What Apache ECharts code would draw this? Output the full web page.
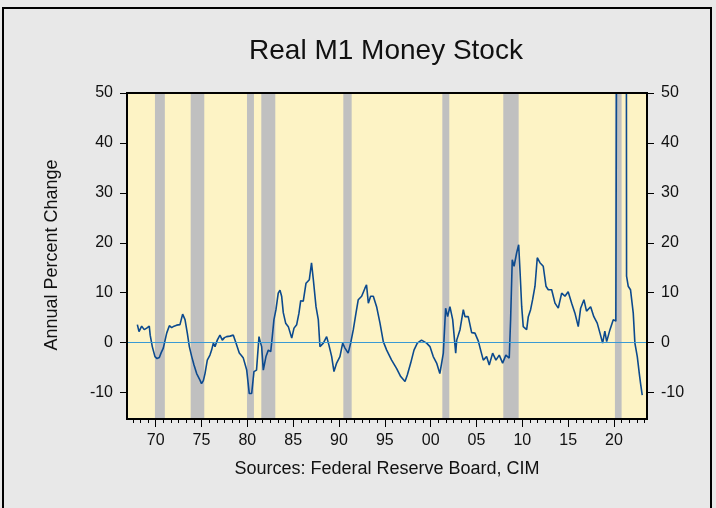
<!DOCTYPE html>
<html>
<head>
<meta charset="utf-8">
<title>Real M1 Money Stock</title>
<script src="https://cdn.jsdelivr.net/npm/echarts@6/dist/echarts.min.js"></script>
<style>
  html, body { margin: 0; padding: 0; background: #e8e8e8; }
  #chart { width: 716px; height: 508px; }
</style>
</head>
<body>
<div id="chart"></div>
<script>
'use strict';

// 年份(小数年) 与 实际M1同比增速(%)
var years = [
  1968.0, 1968.18, 1968.47, 1968.75, 1969.02, 1969.3, 1969.4, 1969.63, 1969.92, 1970.15,
  1970.4, 1970.6, 1970.83, 1971.2, 1971.49, 1971.74, 1972.0, 1972.29, 1972.65, 1972.94,
  1973.2, 1973.45, 1973.67, 1973.93, 1974.18, 1974.47, 1974.65, 1974.83, 1975.0, 1975.2,
  1975.38, 1975.63, 1975.92, 1976.1, 1976.29, 1976.47, 1976.72, 1977.01, 1977.27, 1977.5,
  1977.74, 1978.1, 1978.47, 1978.76, 1979.12, 1979.35, 1979.56, 1979.93, 1980.21, 1980.47,
  1980.72, 1981.0, 1981.27, 1981.4, 1981.56, 1981.74, 1982.03, 1982.29, 1982.55, 1982.72,
  1982.9, 1983.12, 1983.37, 1983.56, 1983.74, 1983.92, 1984.18, 1984.47, 1984.84, 1985.09,
  1985.38, 1985.63, 1985.82, 1986.1, 1986.4, 1986.76, 1987.0, 1987.2, 1987.49, 1987.74,
  1987.92, 1988.29, 1988.65, 1988.9, 1989.2, 1989.45, 1989.74, 1990.1, 1990.4, 1990.65,
  1991.0, 1991.27, 1991.56, 1991.85, 1992.1, 1992.47, 1992.83, 1993.0, 1993.2, 1993.45,
  1993.74, 1994.1, 1994.47, 1994.83, 1995.2, 1995.74, 1996.29, 1996.73, 1997.2, 1997.45,
  1997.82, 1998.18, 1998.54, 1999.0, 1999.56, 1999.92, 2000.28, 2000.65, 2001.0, 2001.38,
  2001.63, 2001.85, 2002.1, 2002.4, 2002.73, 2002.84, 2003.2, 2003.56, 2003.74, 2004.1,
  2004.47, 2004.83, 2005.2, 2005.45, 2005.74, 2006.1, 2006.39, 2006.76, 2007.12, 2007.48,
  2007.85, 2008.2, 2008.57, 2008.72, 2008.9, 2009.1, 2009.38, 2009.6, 2009.74, 2009.93,
  2010.1, 2010.47, 2010.65, 2010.9, 2011.12, 2011.38, 2011.63, 2011.92, 2012.28, 2012.58,
  2012.83, 2013.2, 2013.56, 2013.92, 2014.29, 2014.65, 2015.0, 2015.38, 2015.74, 2016.1,
  2016.36, 2016.72, 2017.0, 2017.45, 2017.8, 2018.17, 2018.47, 2018.76, 2019.0, 2019.2,
  2019.56, 2019.92, 2020.2, 2020.28, 2020.4, 2020.9, 2021.25, 2021.37, 2021.55, 2021.8,
  2022.1, 2022.28, 2022.54, 2022.76, 2022.9, 2023.08
];
var values = [
  3.6, 2.2, 3.3, 2.6, 2.9, 3.3, 1.5, -0.8, -2.8, -3.2,
  -3.0, -2.0, -1.1, 1.9, 3.4, 3.0, 3.3, 3.5, 3.6, 5.7,
  4.6, 1.9, -0.8, -2.8, -4.5, -6.2, -6.5, -7.5, -8.2, -7.6,
  -6.2, -3.5, -2.5, -1.5, -0.1, -0.8, 0.5, 1.5, 0.5, 1.0,
  1.2, 1.3, 1.5, -0.1, -2.1, -2.6, -3.1, -5.5, -10.2, -10.2,
  -5.8, -5.5, 1.2, 0.2, -0.8, -5.5, -2.8, -1.5, -1.8, 1.2,
  4.6, 6.6, 9.9, 10.5, 9.3, 6.0, 3.9, 3.2, 0.9, 2.9,
  3.6, 5.9, 8.4, 8.3, 11.9, 12.6, 16.0, 12.6, 7.2, 4.6,
  -0.8, -0.1, 1.2, -0.5, -2.8, -5.8, -4.1, -2.8, -0.1, -1.1,
  -2.1, -0.1, 2.6, 5.9, 8.6, 9.3, 10.9, 11.6, 7.9, 9.3,
  9.3, 7.2, 3.9, 0.2, -1.5, -3.5, -5.2, -6.8, -7.8, -6.5,
  -4.1, -1.5, -0.1, 0.5, -0.1, -0.8, -2.8, -4.1, -6.2, -2.1,
  6.9, 5.2, 7.2, 4.6, -2.1, 0.5, 2.6, 6.6, 5.2, 5.2,
  2.0, 1.9, 0.3, -1.5, -3.5, -2.8, -4.5, -2.1, -3.5, -2.5,
  -4.1, -2.5, -3.1, 4.6, 16.6, 15.3, 18.0, 19.6, 14.6, 7.2,
  3.2, 2.6, 5.2, 6.6, 8.6, 11.3, 17.0, 16.0, 15.3, 11.3,
  10.6, 10.6, 7.9, 6.9, 9.9, 9.3, 10.2, 7.9, 5.9, 3.2,
  6.9, 8.6, 6.3, 7.2, 5.2, 3.9, 1.9, -0.1, 2.3, 0.2,
  2.6, 4.6, 4.3, 60, 250, 340, 300, 13.3, 11.3, 10.6,
  5.9, -0.1, -2.8, -6.2, -8.2, -10.5
];

// 衰退期阴影
var recessionStart = [1969.92, 1973.82, 1979.96, 1981.52, 1990.47, 2001.27, 2007.92, 2020.1];
var recessionEnd   = [1971.0, 1975.3, 1980.72, 1983.05, 1991.38, 2002.03, 2009.6, 2020.83];

// 刻度
var yTickValues = [-10, 0, 10, 20, 30, 40, 50];
var xLabelYears = [1970, 1975, 1980, 1985, 1990, 1995, 2000, 2005, 2010, 2015, 2020];

var X_MIN = 1966.87, X_MAX = 2023.6;
var Y_MIN = -15.3, Y_MAX = 50;
var FONT = '"Liberation Sans", Arial, sans-serif';

var minorTicks = [];
for (var t = 1970 - 5 / 6 * 3; t <= X_MAX; t += 5 / 6) {
  minorTicks.push(+t.toFixed(4));
}

var lineData = years.map(function (y, i) { return [y, values[i]]; });
var bands = recessionStart.map(function (s, i) {
  return [{ xAxis: s }, { xAxis: recessionEnd[i] }];
});

var grid = { left: 127, top: 93, width: 520, height: 326 };

function yAxisOf(pos) {
  return {
    type: 'value',
    position: pos,
    min: Y_MIN,
    max: Y_MAX,
    splitLine: { show: false },
    axisLine: { show: false, onZero: false },
    axisTick: {
      show: true,
      customValues: yTickValues,
      length: 7,
      lineStyle: { color: '#000', width: 1 }
    },
    axisLabel: {
      customValues: yTickValues,
      color: '#111',
      fontSize: 16,
      fontFamily: FONT,
      margin: 14
    }
  };
}

var chart = echarts.init(document.getElementById('chart'));

chart.setOption({
  backgroundColor: '#e8e8e8',
  animation: false,
  grid: Object.assign({ show: true, backgroundColor: '#fdf3c5', borderWidth: 0 }, grid),
  xAxis: [
    {
      type: 'value',
      position: 'bottom',
      min: X_MIN,
      max: X_MAX,
      splitLine: { show: false },
      axisLine: { show: false, onZero: false },
      axisTick: {
        show: true,
        customValues: xLabelYears,
        length: 8,
        lineStyle: { color: '#000', width: 1 }
      },
      axisLabel: {
        customValues: xLabelYears,
        color: '#111',
        fontSize: 16,
        fontFamily: FONT,
        margin: 14,
        formatter: function (v) {
          var s = String(Math.round(v) % 100);
          return s.length < 2 ? '0' + s : s;
        }
      }
    },
    {
      type: 'value',
      position: 'bottom',
      min: X_MIN,
      max: X_MAX,
      splitLine: { show: false },
      axisLine: { show: false, onZero: false },
      axisLabel: { show: false },
      axisTick: {
        show: true,
        customValues: minorTicks,
        length: 4,
        lineStyle: { color: '#000', width: 1 }
      }
    }
  ],
  yAxis: [yAxisOf('left'), yAxisOf('right')],
  series: [
    {
      type: 'line',
      xAxisIndex: 0,
      yAxisIndex: 0,
      data: lineData,
      showSymbol: false,
      clip: true,
      lineStyle: { color: '#0c4a8e', width: 1.6 },
      markArea: {
        silent: true,
        itemStyle: { color: '#c0c0c0', opacity: 1 },
        data: bands
      },
      markLine: {
        silent: true,
        symbol: 'none',
        label: { show: false },
        lineStyle: { color: '#3a9ad4', width: 1, type: 'solid' },
        data: [{ yAxis: 0 }]
      }
    }
  ],
  graphic: [
    {
      type: 'rect',
      shape: { x: 3, y: 8, width: 708, height: 520 },
      style: { fill: null, stroke: '#000', lineWidth: 2 },
      silent: true,
      z: 100
    },
    {
      type: 'rect',
      shape: { x: grid.left, y: grid.top, width: grid.width, height: grid.height },
      style: { fill: null, stroke: '#000', lineWidth: 2 },
      silent: true,
      z: 100
    },
    {
      type: 'text',
      x: 386,
      y: 51,
      style: {
        text: 'Real M1 Money Stock',
        fill: '#111',
        font: '28px ' + FONT,
        textAlign: 'center',
        textVerticalAlign: 'middle'
      }
    },
    {
      type: 'text',
      x: 387,
      y: 469,
      style: {
        text: 'Sources: Federal Reserve Board, CIM',
        fill: '#111',
        font: '18px ' + FONT,
        textAlign: 'center',
        textVerticalAlign: 'middle'
      }
    },
    {
      type: 'text',
      x: 52,
      y: 255,
      rotation: Math.PI / 2,
      style: {
        text: 'Annual Percent Change',
        fill: '#111',
        font: '18px ' + FONT,
        textAlign: 'center',
        textVerticalAlign: 'middle'
      }
    }
  ]
});
</script>
</body>
</html>
